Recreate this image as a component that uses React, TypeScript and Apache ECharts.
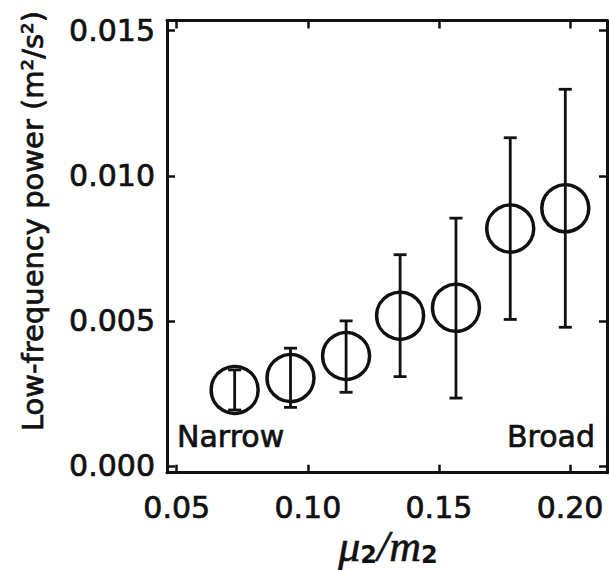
import React, { useEffect, useRef } from "react";
import * as echarts from "echarts";

const xValues = [0.0721, 0.0934, 0.1146, 0.1352, 0.1565, 0.1772, 0.1982];
const yValues = [0.00262, 0.00303, 0.00379, 0.00518, 0.00545, 0.00818, 0.00888];
const errLow = [0.00193, 0.00202, 0.00254, 0.00308, 0.00234, 0.00505, 0.00478];
const errHigh = [0.00331, 0.00406, 0.005, 0.00728, 0.00854, 0.01131, 0.01298];
const xTicks = [0.05, 0.1, 0.15, 0.2];
const yTicks = [0, 0.005, 0.01, 0.015];

const INK = "#111";
const FONT = "DejaVu Sans";

export default function App() {
  const ref = useRef<HTMLDivElement>(null);
  useEffect(() => {
    if (!ref.current) return;
    const chart = echarts.init(ref.current, undefined, { renderer: "svg" });
    const points = xValues.map((x, i) => [x, yValues[i]]);
    const errs = xValues.map((x, i) => [x, errLow[i], errHigh[i]]);
    const lineStyle = { color: INK, width: 3 };
    const tickStyle = { color: INK, width: 2.5 };
    const xMin = 0.0463, xMax = 0.2141, yMin = -0.000231, yMax = 0.01535;
    const heavy = { textBorderColor: INK, textBorderWidth: 0.7 };
    const gHeavy = { stroke: INK, lineWidth: 0.7 };
    const xBase = {
      type: "value" as const,
      min: xMin,
      max: xMax,
      splitLine: { show: false },
      axisLine: { show: true, onZero: false, lineStyle },
      axisTick: { show: true, inside: true, length: 8, lineStyle: tickStyle, customValues: xTicks },
    };
    const yBase = {
      type: "value" as const,
      min: yMin,
      max: yMax,
      splitLine: { show: false },
      axisLine: { show: true, onZero: false, lineStyle },
      axisTick: { show: true, inside: true, length: 8, lineStyle: tickStyle, customValues: yTicks },
    };
    chart.setOption({
      animation: false,
      backgroundColor: "#fff",
      grid: { left: 167, top: 20.5, right: 3, bottom: 97.3, containLabel: false },
      xAxis: [
        {
          ...xBase,
          position: "bottom",
          axisLabel: {
            customValues: xTicks,
            formatter: (v: number) => v.toFixed(2),
            color: INK,
            fontFamily: FONT,
            fontSize: 30,
            margin: 20,
            ...heavy,
          },
        },
        { ...xBase, position: "top", axisLabel: { show: false } },
      ],
      yAxis: [
        {
          ...yBase,
          position: "left",
          axisLabel: {
            customValues: yTicks,
            formatter: (v: number) => v.toFixed(3),
            color: INK,
            fontFamily: FONT,
            fontSize: 30,
            margin: 12,
            ...heavy,
          },
        },
        { ...yBase, position: "right", axisLabel: { show: false } },
      ],
      series: [
        {
          type: "custom",
          xAxisIndex: 0,
          yAxisIndex: 0,
          data: errs,
          encode: { x: 0, y: [1, 2] },
          renderItem: (params: any, api: any) => {
            const x = api.value(0);
            const lo = api.coord([x, api.value(1)]);
            const hi = api.coord([x, api.value(2)]);
            const hw = 6.5;
            const st = { stroke: INK, lineWidth: 2.8 };
            return {
              type: "group",
              children: [
                { type: "line", shape: { x1: lo[0], y1: lo[1], x2: hi[0], y2: hi[1] }, style: st },
                { type: "line", shape: { x1: lo[0] - hw, y1: lo[1], x2: lo[0] + hw, y2: lo[1] }, style: st },
                { type: "line", shape: { x1: hi[0] - hw, y1: hi[1], x2: hi[0] + hw, y2: hi[1] }, style: st },
              ],
            };
          },
        },
        {
          type: "scatter",
          xAxisIndex: 0,
          yAxisIndex: 0,
          data: points,
          symbol: "circle",
          symbolSize: 47,
          itemStyle: { color: "rgba(0,0,0,0)", borderColor: INK, borderWidth: 3.5, opacity: 1 },
        },
      ],
      graphic: [
        {
          type: "text",
          x: 33,
          y: 221,
          rotation: Math.PI / 2,
          style: {
            text: "Low-frequency power (m²/s²)",
            fill: INK,
            font: `29px "${FONT}"`,
            align: "center",
            verticalAlign: "middle",
            ...gHeavy,
          },
        },
        {
          type: "text",
          x: 177,
          y: 451,
          style: { text: "Narrow", fill: INK, font: `30px "${FONT}"`, align: "left", verticalAlign: "bottom", ...gHeavy },
        },
        {
          type: "text",
          x: 595,
          y: 451,
          style: { text: "Broad", fill: INK, font: `30px "${FONT}"`, align: "right", verticalAlign: "bottom", ...gHeavy },
        },
        {
          type: "text",
          x: 388,
          y: 546,
          style: {
            text: "{i|μ}{s|2}{i|/}{i|m}{s|2}",
            align: "center",
            verticalAlign: "middle",
            rich: {
              i: { fill: INK, fontFamily: "Liberation Serif", fontStyle: "italic", fontSize: 44, stroke: INK, lineWidth: 0.6 },
              s: { fill: INK, fontFamily: FONT, fontSize: 24, fontWeight: "bold", padding: [18, 0, 0, 0] },
            },
          },
        },
      ],
    });
    return () => chart.dispose();
  }, []);
  return <div ref={ref} style={{ position: "fixed", left: 0, top: 0, width: 610, height: 570 }} />;
}
